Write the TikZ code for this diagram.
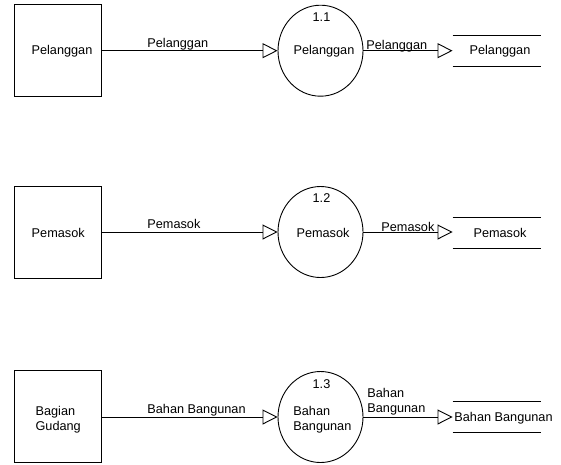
\documentclass[tikz,border=0pt]{standalone}
\usepackage{fontspec}
\setmainfont{Liberation Sans}
\usetikzlibrary{shapes.geometric,arrows.meta}

\begin{document}
\begin{tikzpicture}[x=1pt, y=-1pt,
  font=\fontsize{12.7}{15}\selectfont, line width=0.9pt,
  entity/.style={draw, minimum width=87pt, minimum height=92pt, inner sep=0pt},
  process/.style={draw, ellipse, minimum width=85pt, minimum height=91pt, inner sep=0pt},
  store/.style={minimum width=88pt, minimum height=30pt, inner sep=0pt},
  flow/.style={-{Triangle[open, length=15pt, width=15pt]}},
  txt/.style={inner sep=0pt},
  lbl/.style={inner sep=0pt, anchor=base west}]

\useasboundingbox (0,0) rectangle (561,464);

% ---- 1.1 Pelanggan ----
\node[entity] (e1) at (58.2,50.7) {};
\node[txt] (e1t) at (62,51.7) {Pelanggan};
\node[process] (p1) at (320.5,50.7) {};
\node[txt] (p1n) at (321.5,17) {1.1};
\node[txt] (p1t) at (324,51.7) {Pelanggan};
\node[store] (s1) at (497,50.7) {};
\draw (s1.north west) -- (s1.north east);
\draw (s1.south west) -- (s1.south east);
\node[txt] (s1t) at (500,51.7) {Pelanggan};
\draw[flow] (e1) -- (p1);
\draw[flow] (p1) -- (s1.west);
\node[lbl] (f1a) at (147,47.3) {Pelanggan};
\node[lbl] (f1b) at (366,49.5) {Pelanggan};

% ---- 1.2 Pemasok ----
\node[entity] (e2) at (58.2,232) {};
\node[txt] (e2t) at (58.2,233) {Pemasok};
\node[process] (p2) at (320.5,232) {};
\node[txt] (p2n) at (321.5,198.5) {1.2};
\node[txt] (p2t) at (323,233) {Pemasok};
\node[store] (s2) at (497,233) {};
\draw (s2.north west) -- (s2.north east);
\draw (s2.south west) -- (s2.south east);
\node[txt] (s2t) at (500,233) {Pemasok};
\draw[flow] (e2) -- (p2);
\draw[flow] (p2) -- (p2 -| s2.west);
\node[lbl] (f2a) at (147,228.3) {Pemasok};
\node[lbl] (f2b) at (381,231) {Pemasok};

% ---- 1.3 Bahan Bangunan ----
\node[entity] (e3) at (58.2,416.5) {};
\node[txt, align=left] (e3t) at (58.2,420) {Bagian\\Gudang};
\node[process] (p3) at (320.5,417) {};
\node[txt] (p3n) at (321.5,384) {1.3};
\node[txt, align=left, anchor=west] (p3t) at (293,420) {Bahan\\Bangunan};
\node[store] (s3) at (497,417) {};
\draw (s3.north west) -- (s3.north east);
\draw (s3.south west) -- (s3.south east);
\node[txt, anchor=west] (s3t) at (454,418) {Bahan Bangunan};
\draw[flow] (e3.east |- p3) -- (p3);
\draw[flow] (p3) -- (s3.west);
\node[lbl] (f3a) at (147,413.3) {Bahan Bangunan};
\node[txt, align=left, anchor=south west] (f3b) at (367,416) {Bahan\\Bangunan};

\end{tikzpicture}
\end{document}
